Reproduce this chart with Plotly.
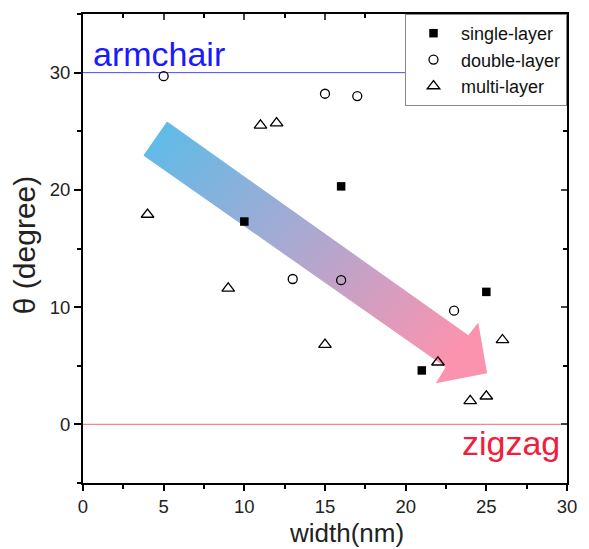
import base64
import plotly.graph_objects as go

single_x = [10, 16, 21, 25]
single_y = [17.3, 20.3, 4.6, 11.3]
double_x = [5, 15, 17, 13, 16, 23]
double_y = [29.7, 28.2, 28.0, 12.4, 12.3, 9.7]
multi_x = [4, 9, 11, 12, 15, 22, 24, 25, 26]
multi_y = [17.9, 11.6, 25.5, 25.7, 6.8, 5.3, 2.0, 2.4, 7.2]

armchair_y = 30
zigzag_y = 0
x_range = [0, 30]
y_range = [-5, 35]
x_ticks = [0, 5, 10, 15, 20, 25, 30]
y_ticks = [0, 10, 20, 30]

FONT = "Liberation Sans, Arial, sans-serif"

fig = go.Figure()

fig.add_trace(go.Scatter(x=single_x, y=single_y, mode="markers", name="single-layer",
                         marker=dict(symbol="square", size=8.5, color="black")))
fig.add_trace(go.Scatter(x=double_x, y=double_y, mode="markers", name="double-layer",
                         marker=dict(symbol="circle-open", size=9, color="black", line=dict(width=1.3))))
fig.add_trace(go.Scatter(x=multi_x, y=multi_y, mode="markers", name="multi-layer",
                         marker=dict(symbol="triangle-up-open", size=11, color="black", line=dict(width=1.3))))
# invisible trace for mirrored axes (inward ticks)
fig.add_trace(go.Scatter(x=x_range, y=y_range, xaxis="x2", yaxis="y2", mode="markers",
                         marker=dict(opacity=0), showlegend=False, hoverinfo="skip"))

# reference lines
fig.add_shape(type="line", xref="x", yref="y", x0=x_range[0], x1=x_range[1], y0=armchair_y, y1=armchair_y,
              line=dict(color="#4a4aff", width=1), layer="below")
fig.add_shape(type="line", xref="x", yref="y", x0=x_range[0], x1=x_range[1], y0=zigzag_y, y1=zigzag_y,
              line=dict(color="#f08a96", width=1.2), layer="below")

# gradient arrow as SVG image
svg = ('<svg xmlns="http://www.w3.org/2000/svg" width="348" height="262" viewBox="0 0 348 262" preserveAspectRatio="none">'
       '<defs><linearGradient id="g" x1="0" y1="0" x2="1" y2="0.75">'
       '<stop offset="0" stop-color="#58bdea"/><stop offset="0.5" stop-color="#a9a9d2"/>'
       '<stop offset="1" stop-color="#fb93af"/></linearGradient></defs>'
       '<polygon points="24,0 329,214 339,201 348,252 296,262 306,246 0,34" fill="url(#g)"/></svg>')
src = "data:image/svg+xml;base64," + base64.b64encode(svg.encode()).decode()
fig.add_layout_image(dict(source=src, xref="x", yref="y", x=3.74, y=25.83, sizex=21.31, sizey=22.33,
                          xanchor="left", yanchor="top", sizing="stretch", layer="below"))

fig.add_annotation(x=0.5, y=31.6, xref="x", yref="y", text="armchair", showarrow=False,
                   xanchor="left", yanchor="middle", font=dict(family=FONT, size=34, color="#1a1aff"))
fig.add_annotation(x=29.7, y=-1.6, xref="x", yref="y", text="zigzag", showarrow=False,
                   xanchor="right", yanchor="middle", font=dict(family=FONT, size=34, color="#f0203c"))
# axis titles
fig.add_annotation(x=16.35, y=-0.1405, xref="x", yref="paper", text="width(nm)", showarrow=False, borderpad=0,
                   xanchor="center", yanchor="bottom", font=dict(family=FONT, size=26, color="#222"))
fig.add_annotation(x=-0.122, y=0.507, xref="paper", yref="paper", text="θ (degree)", showarrow=False,
                   textangle=-90, xanchor="center", yanchor="middle", font=dict(family=FONT, size=30, color="#222"))

axis_common = dict(showgrid=False, zeroline=False, linecolor="black", linewidth=2, color="black",
                   tickfont=dict(family=FONT, size=18.5, color="#222"))

fig.update_layout(
    width=589, height=549,
    margin=dict(l=83, r=15, t=14, b=66),
    plot_bgcolor="white", paper_bgcolor="white",
    font=dict(family=FONT, color="black"),
    xaxis=dict(range=x_range, tickvals=x_ticks, ticks="outside", ticklen=6, tickwidth=2,
               minor=dict(dtick=2.5, tick0=0, ticks="outside", ticklen=4, tickwidth=2, tickcolor="black"),
               **axis_common),
    yaxis=dict(range=y_range, tickvals=y_ticks, ticks="outside", ticklen=7, tickwidth=2,
               minor=dict(dtick=5, tick0=0, ticks="outside", ticklen=4, tickwidth=2, tickcolor="black"),
               **axis_common),
    xaxis2=dict(range=x_range, overlaying="x", side="top", showticklabels=False, tickvals=x_ticks,
                ticks="inside", ticklen=6, tickwidth=2, showgrid=False, zeroline=False, linecolor="black", linewidth=2,
                minor=dict(dtick=2.5, tick0=0, ticks="inside", ticklen=4, tickwidth=2, tickcolor="black")),
    yaxis2=dict(range=y_range, overlaying="y", side="right", showticklabels=False, tickvals=y_ticks,
                ticks="inside", ticklen=6, tickwidth=2, showgrid=False, zeroline=False, linecolor="black", linewidth=2,
                minor=dict(dtick=5, tick0=0, ticks="inside", ticklen=4, tickwidth=2, tickcolor="black")),
    legend=dict(x=1, y=1, xanchor="right", yanchor="top", bgcolor="white", bordercolor="#888", borderwidth=1,
                font=dict(family=FONT, size=18, color="#111"), itemwidth=45, tracegroupgap=0),
    showlegend=True,
)

fig.write_html("out.html")
